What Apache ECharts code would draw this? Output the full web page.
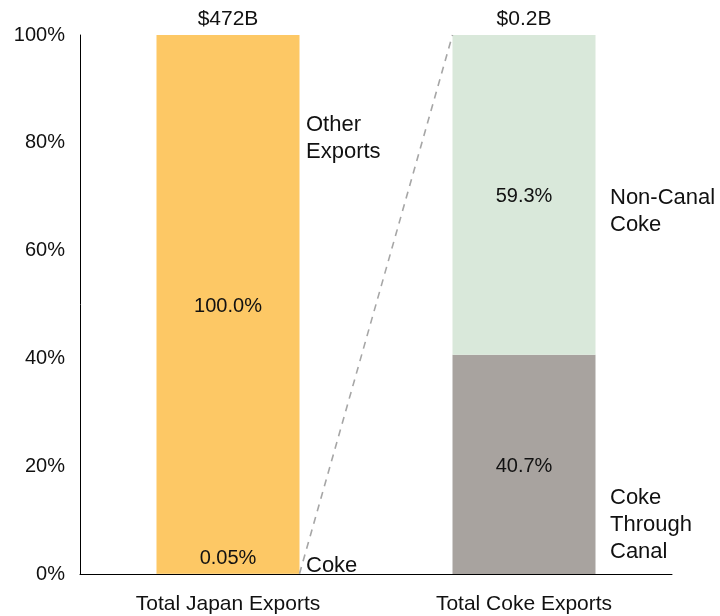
<!DOCTYPE html>
<html>
<head>
<meta charset="utf-8">
<script src="https://cdn.jsdelivr.net/npm/echarts@6/dist/echarts.min.js"></script>
<style>
  html, body { margin: 0; padding: 0; background: #fff; }
  #chart { width: 720px; height: 616px; }
</style>
</head>
<body>
<div id="chart"></div>
<script>
// Categories and shares (percent of each bar)
const categories = ['Total Japan Exports', 'Total Coke Exports'];
const cokeShare = [0.05, null];
const otherShare = [99.95, null];
const canalShare = [null, 40.7];
const nonCanalShare = [null, 59.3];
const totals = ['$472B', '$0.2B'];
const yTicks = [0, 20, 40, 60, 80, 100];

const FONT = 'Liberation Sans, Arial, sans-serif';
const TEXT = '#111111';
const BAR_W = 143;

const chart = echarts.init(document.getElementById('chart'), null, { renderer: 'canvas' });

function pct(digits) {
  return p => (p.value == null ? '' : (Math.round(p.value * Math.pow(10, digits)) / Math.pow(10, digits)).toFixed(digits) + '%');
}

const valueLabel = { color: TEXT, fontFamily: FONT, fontSize: 20 };
const sideFont = '22px ' + FONT;

chart.setOption({
  animation: false,
  backgroundColor: '#ffffff',
  textStyle: { fontFamily: FONT },
  grid: { left: 80, right: 48, top: 35, bottom: 42, containLabel: false },
  xAxis: {
    type: 'category',
    data: categories,
    axisLine: { lineStyle: { color: '#000', width: 1 } },
    axisTick: { show: false },
    axisLabel: { color: TEXT, fontFamily: FONT, fontSize: 21, margin: 20 }
  },
  yAxis: {
    type: 'value',
    min: yTicks[0],
    max: yTicks[yTicks.length - 1],
    interval: yTicks[1] - yTicks[0],
    axisLine: { show: true, lineStyle: { color: '#000', width: 1 } },
    axisTick: { show: false },
    splitLine: { show: false },
    axisLabel: { color: TEXT, fontFamily: FONT, fontSize: 20, margin: 15, formatter: v => v + '%' }
  },
  series: [
    {
      name: 'Coke', type: 'bar', stack: 'share', barWidth: BAR_W,
      data: cokeShare,
      itemStyle: { color: '#FDC865' },
      label: Object.assign({ show: true, position: 'top', distance: 5, formatter: pct(2) }, valueLabel)
    },
    {
      name: 'Other Exports', type: 'bar', stack: 'share', barWidth: BAR_W,
      data: otherShare,
      itemStyle: { color: '#FDC865' },
      label: Object.assign({ show: true, position: 'inside', offset: [0, 2], formatter: pct(1) }, valueLabel)
    },
    {
      name: 'Coke Through Canal', type: 'bar', stack: 'share', barWidth: BAR_W,
      data: canalShare,
      itemStyle: { color: '#A8A39F' },
      label: Object.assign({ show: true, position: 'inside', offset: [0, 2], formatter: pct(1) }, valueLabel)
    },
    {
      name: 'Non-Canal Coke', type: 'bar', stack: 'share', barWidth: BAR_W,
      data: nonCanalShare,
      itemStyle: { color: '#D9E8DA' },
      label: Object.assign({ show: true, position: 'inside', offset: [0, 2], formatter: pct(1) }, valueLabel)
    },
    {
      // zero-height cap carrying the dollar totals above each bar
      name: 'Total', type: 'bar', stack: 'share', barWidth: BAR_W,
      data: totals.map(() => 0),
      itemStyle: { color: 'transparent' },
      label: { show: true, position: 'top', distance: 5, color: TEXT, fontFamily: FONT, fontSize: 21,
               formatter: p => totals[p.dataIndex] }
    },
    {
      // dashed connector from the Coke slice to the top of the breakdown bar
      name: 'connector', type: 'custom', silent: true, z: 5,
      data: [[0, cokeShare[0], 1, 100]],
      encode: { x: [0, 2], y: [1, 3] },
      renderItem: (params, api) => {
        const a = api.coord([api.value(0), api.value(1)]);
        const b = api.coord([api.value(2), api.value(3)]);
        return {
          type: 'line',
          shape: { x1: a[0] + BAR_W / 2, y1: a[1], x2: b[0] - BAR_W / 2, y2: b[1] },
          style: { stroke: '#A6A6A6', lineWidth: 1.6, lineDash: [7, 6] }
        };
      }
    }
  ],
  graphic: [
    { type: 'text', left: 306, top: 111, style: { text: 'Other\nExports', fill: TEXT, font: sideFont, lineHeight: 27 } },
    { type: 'text', left: 306, top: 552, style: { text: 'Coke', fill: TEXT, font: sideFont, lineHeight: 27 } },
    { type: 'text', left: 610, top: 184, style: { text: 'Non-Canal\nCoke', fill: TEXT, font: sideFont, lineHeight: 27 } },
    { type: 'text', left: 610, top: 484, style: { text: 'Coke\nThrough\nCanal', fill: TEXT, font: sideFont, lineHeight: 27 } }
  ]
});
</script>
</body>
</html>
